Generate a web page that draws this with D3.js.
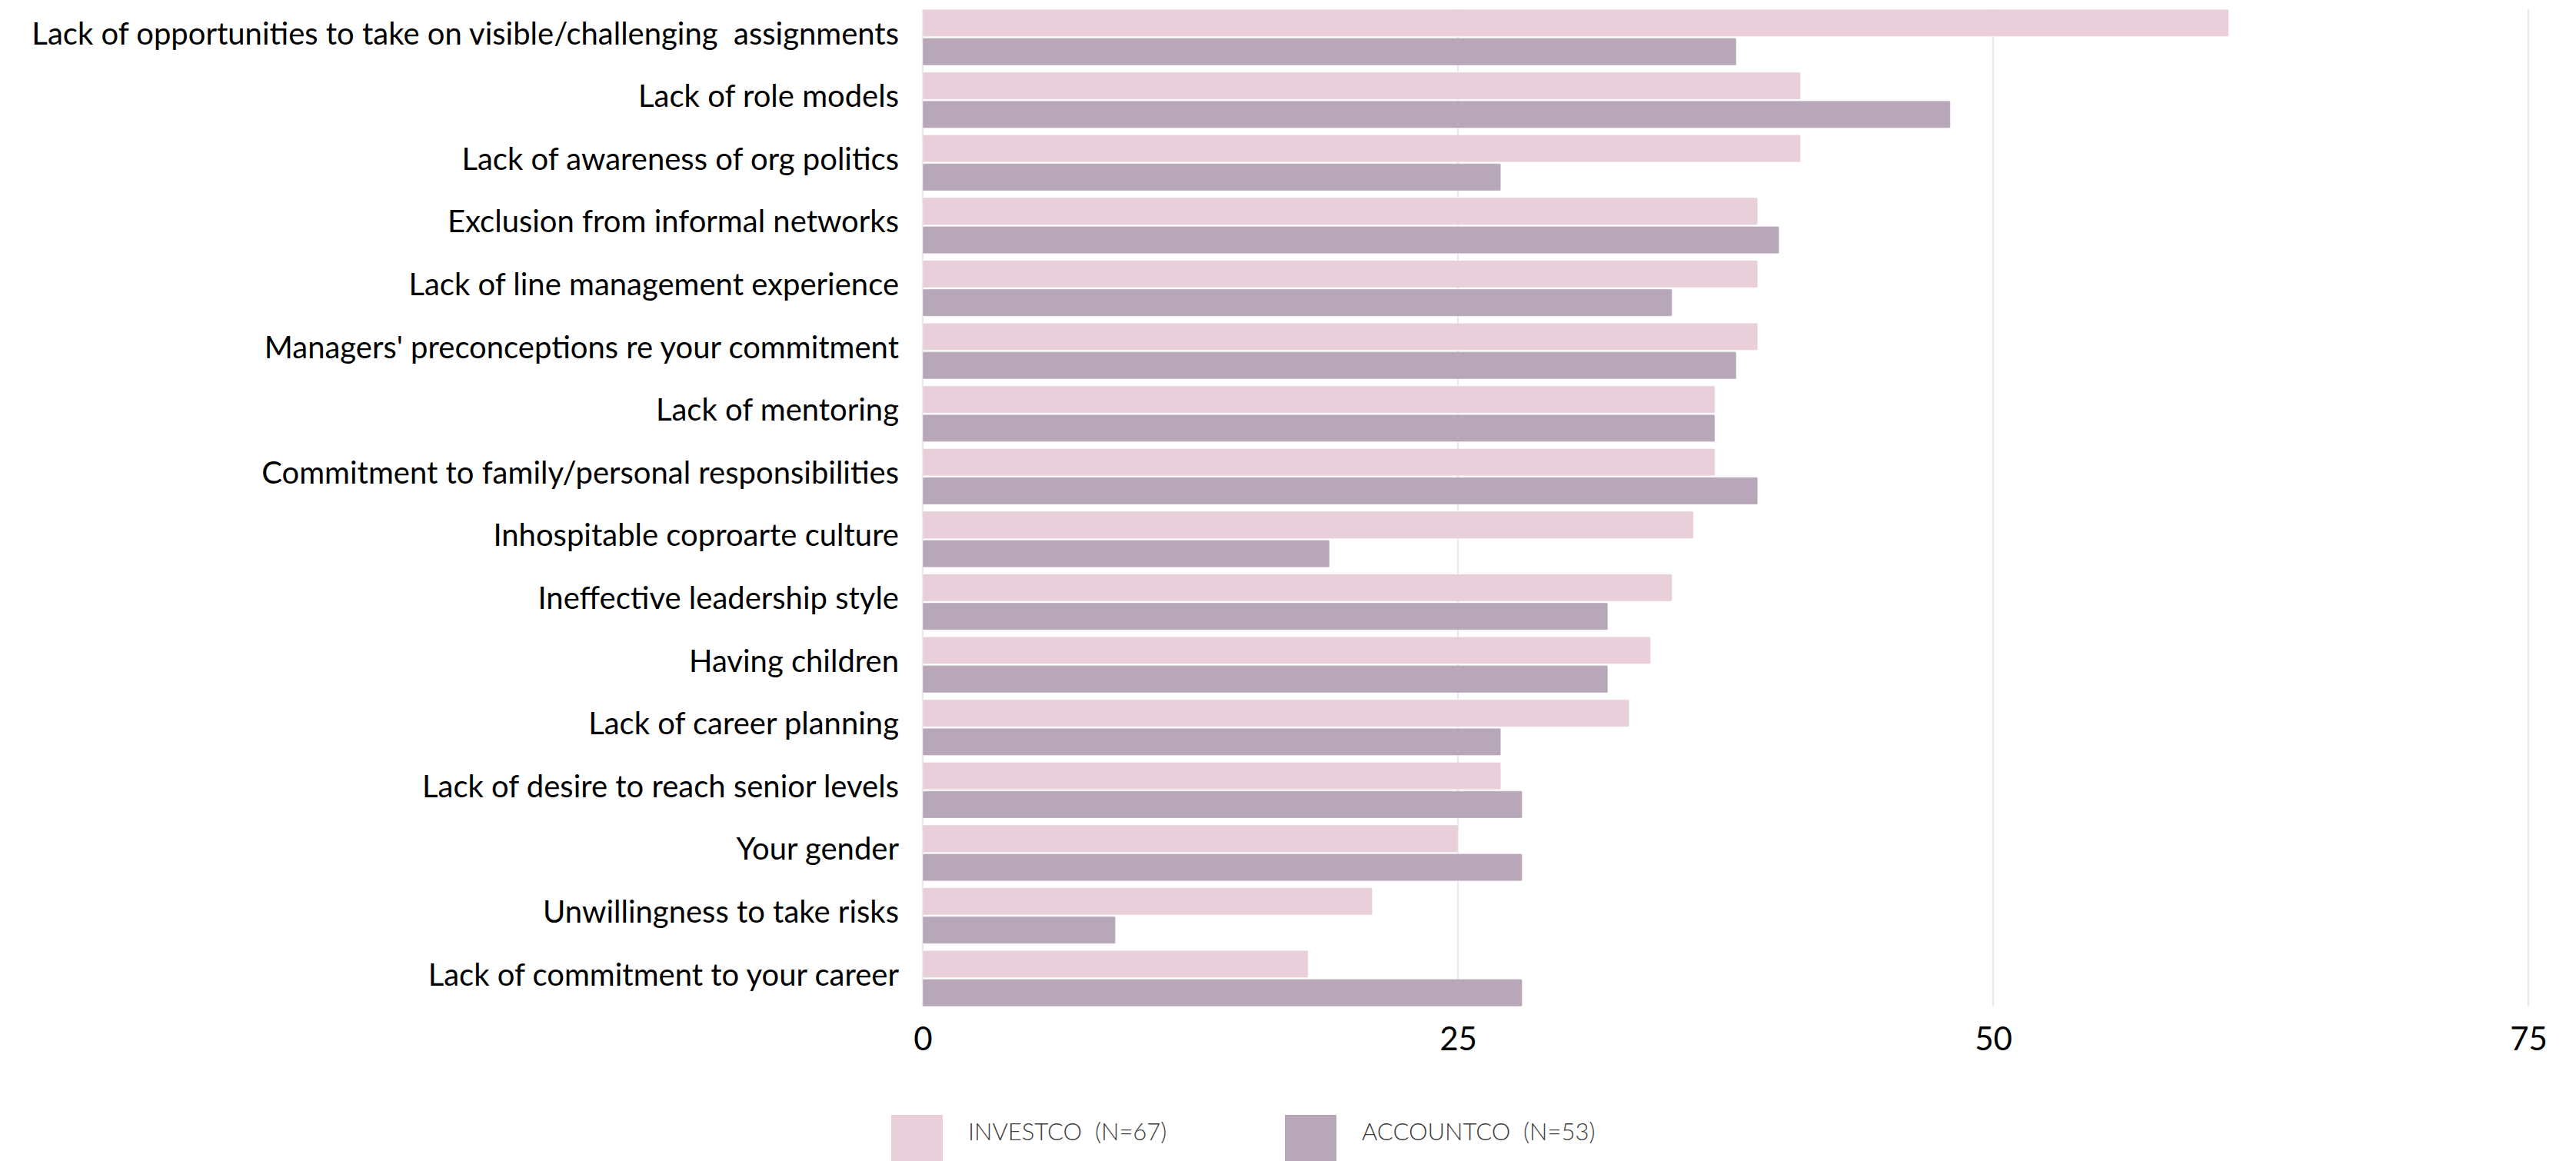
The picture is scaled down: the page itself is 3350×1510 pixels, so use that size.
<!DOCTYPE html>
<html>
<head>
<meta charset="utf-8">
<script src="https://cdn.jsdelivr.net/npm/d3@7"></script>
<style>
  html, body { margin: 0; padding: 0; background: #ffffff; }
  svg { display: block; }
  text { font-family: Lato, "Open Sans", sans-serif; }
</style>
</head>
<body>
<svg id="chart" width="3350" height="1510"></svg>
<script>
// Barriers to advancement, % of respondents citing each factor
const categories = [
  "Lack of opportunities to take on visible/challenging  assignments",
  "Lack of role models",
  "Lack of awareness of org politics",
  "Exclusion from informal networks",
  "Lack of line management experience",
  "Managers' preconceptions re your commitment",
  "Lack of mentoring",
  "Commitment to family/personal responsibilities",
  "Inhospitable coproarte culture",
  "Ineffective leadership style",
  "Having children",
  "Lack of career planning",
  "Lack of desire to reach senior levels",
  "Your gender",
  "Unwillingness to take risks",
  "Lack of commitment to your career"
];
const investco  = [61, 41, 41, 39, 39, 39, 37, 37, 36, 35, 34, 33, 27, 25, 21, 18];
const accountco = [38, 48, 27, 40, 35, 38, 37, 39, 19, 32, 32, 27, 28, 28,  9, 28];
const seriesNames = ["INVESTCO  (N=67)", "ACCOUNTCO  (N=53)"];
const xTicks = [0, 25, 50, 75];

const seriesColors = ["#e8cfda", "#b8a7b8"];
const seriesValues = [investco, accountco];

const svg = d3.select("#chart");

const x = d3.scaleLinear().domain([0, 75]).range([1200, 3288]);
const y = d3.scaleBand().domain(categories).range([7.8, 1313.4]).padding(0);
const ySub = d3.scaleBand().domain([0, 1]).range([4.5, 77.1]).paddingInner(0.054);

const plotTop = 12, plotBottom = 1309;

// vertical gridlines
svg.append("g").attr("class", "grid")
  .selectAll("line").data(xTicks).join("line")
  .attr("x1", d => x(d)).attr("x2", d => x(d))
  .attr("y1", plotTop).attr("y2", plotBottom)
  .attr("stroke", "#d9d9d9").attr("stroke-width", 1.2);

// bars
const rows = categories.map((c, i) => ({ c, vals: seriesValues.map(s => s[i]) }));
const group = svg.append("g").attr("class", "bars")
  .selectAll("g").data(rows).join("g")
  .attr("transform", d => `translate(0,${y(d.c)})`);

group.selectAll("rect")
  .data(d => d.vals.map((v, k) => ({ v, k })))
  .join("rect")
  .attr("x", x(0))
  .attr("y", d => ySub(d.k))
  .attr("width", d => x(d.v) - x(0))
  .attr("height", ySub.bandwidth())
  .attr("rx", 1.5)
  .attr("fill", d => seriesColors[d.k])
  .attr("stroke", "#ffffff").attr("stroke-opacity", 0.35).attr("stroke-width", 1);

// category labels
svg.append("g").attr("class", "y-labels")
  .selectAll("text").data(categories).join("text")
  .attr("x", 1169)
  .attr("y", d => y(d) + y.bandwidth() / 2 + 9)
  .attr("text-anchor", "end")
  .attr("font-size", 40)
  .attr("fill", "#000000")
  .style("white-space", "pre")
  .text(d => d);

// x axis tick labels
const xAxis = d3.axisBottom(x).tickValues(xTicks).tickSize(0).tickPadding(0);
const axisG = svg.append("g").attr("class", "x-axis")
  .attr("transform", `translate(0,${plotBottom})`)
  .call(xAxis);
axisG.select(".domain").remove();
axisG.selectAll("text")
  .attr("dy", null)
  .attr("y", 57)
  .attr("font-size", 42)
  .attr("font-family", "Lato, 'Open Sans', sans-serif")
  .attr("fill", "#000000");

// legend
const legendX = [1159, 1671];
const legend = svg.append("g").attr("class", "legend")
  .selectAll("g").data(seriesNames).join("g")
  .attr("transform", (d, i) => `translate(${legendX[i]},1450)`);
legend.append("rect")
  .attr("width", 67).attr("height", 64)
  .attr("fill", (d, i) => seriesColors[i]);
legend.append("text")
  .attr("x", 100).attr("y", 33)
  .attr("font-size", 31)
  .attr("font-weight", 300)
  .attr("fill", "#404040")
  .style("white-space", "pre")
  .text(d => d);
</script>
</body>
</html>
